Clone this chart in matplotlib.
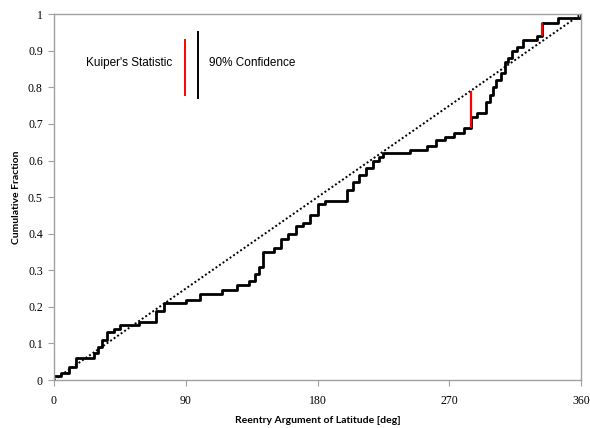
"""Kuiper test plot: empirical CDF of reentry argument of latitude"""
import matplotlib.pyplot as plt
import numpy as np

# step positions [deg] and cumulative fraction reached at each step
step_x = [0, 5, 10, 15, 27, 30, 33, 36, 41, 45, 58, 70, 75, 90, 100, 115,
          125, 133, 137, 140, 143, 150, 155, 160, 165, 170, 175, 180, 185,
          200, 204, 208, 213, 218, 222, 225, 243, 255, 261, 267, 273, 280,
          285, 289, 295, 298, 300, 302, 305, 308, 310, 313, 316, 320, 330,
          333, 344, 360]
step_y = [0.01, 0.02, 0.035, 0.06, 0.075, 0.09, 0.11, 0.13, 0.14, 0.15,
          0.16, 0.19, 0.21, 0.22, 0.235, 0.245, 0.26, 0.27, 0.29, 0.31,
          0.35, 0.36, 0.385, 0.40, 0.42, 0.43, 0.45, 0.48, 0.49, 0.52,
          0.54, 0.56, 0.58, 0.60, 0.61, 0.62, 0.63, 0.64, 0.655, 0.665,
          0.675, 0.69, 0.72, 0.73, 0.76, 0.78, 0.80, 0.82, 0.84, 0.87,
          0.88, 0.90, 0.91, 0.93, 0.94, 0.975, 0.99, 1.0]

# Kuiper statistic segments (x, y_low, y_high)
kuiper_x = [285, 333]
kuiper_lo = [0.69, 0.94]
kuiper_hi = [0.79, 0.975]

xticks = [0, 90, 180, 270, 360]
yticks = [0, 0.1, 0.2, 0.3, 0.4, 0.5, 0.6, 0.7, 0.8, 0.9, 1]
ytick_labels = ['0', '0.1', '0.2', '0.3', '0.4', '0.5', '0.6', '0.7', '0.8',
                '0.9', '1']


def plot():
    fig = plt.figure(figsize=(5.9, 4.28), dpi=100)
    ax = fig.add_axes([0.0915, 0.112, 0.8935, 0.855])

    # uniform reference distribution
    ax.plot([0, 360], [0, 1], color='black', linestyle=(0, (1, 1.2)),
            linewidth=1.4)
    ax.step(step_x, step_y, where='post', color='black', linewidth=2)
    ax.vlines(kuiper_x, kuiper_lo, kuiper_hi, color='red', linewidth=1.6,
              zorder=3)

    # hand-made legend
    ax.plot([0.248, 0.248], [0.78, 0.93], color='red', linewidth=1.4,
            transform=ax.transAxes)
    ax.plot([0.274, 0.274], [0.77, 0.95], color='black', linewidth=1.4,
            transform=ax.transAxes)
    ax.text(0.224, 0.866, "Kuiper's Statistic", transform=ax.transAxes,
            ha='right', va='center', fontsize=8.5, family='Liberation Sans')
    ax.text(0.294, 0.866, '90% Confidence', transform=ax.transAxes,
            ha='left', va='center', fontsize=8.5, family='Liberation Sans')

    ax.set_xlim(0, 360)
    ax.set_ylim(0, 1)
    ax.set_xticks(xticks)
    ax.set_yticks(yticks)
    ax.set_yticklabels(ytick_labels)
    for lab in ax.get_xticklabels() + ax.get_yticklabels():
        lab.set_family('Liberation Serif')
        lab.set_fontsize(8.5)
    ax.tick_params(length=4, width=0.8, color='#a0a0a0', pad=4)
    ax.tick_params(axis='x', pad=7)
    for s in ax.spines.values():
        s.set_color('#a0a0a0')
        s.set_linewidth(1)

    ax.set_xlabel('Reentry Argument of Latitude [deg]', fontsize=7.5,
                  fontweight='bold', family='Lato', labelpad=6)
    ax.set_ylabel('Cumulative Fraction', fontsize=7.5, fontweight='bold',
                  family='Lato', labelpad=5)

    fig.savefig('out.png', dpi=100)
    plt.close()


if __name__ == "__main__":
    plot()
